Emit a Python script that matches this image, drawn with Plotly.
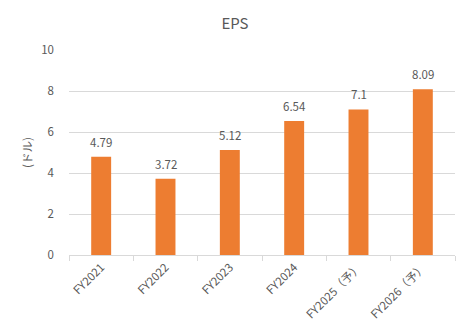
import plotly.graph_objects as go

categories = ["FY2021", "FY2022", "FY2023", "FY2024", "FY2025（予）", "FY2026（予）"]
eps = [4.79, 3.72, 5.12, 6.54, 7.1, 8.09]
eps_labels = ["4.79", "3.72", "5.12", "6.54", "7.1", "8.09"]

font_family = "Noto Sans CJK JP, Noto Sans, sans-serif"
grey = "#595959"

fig = go.Figure(
    go.Bar(
        x=categories,
        y=eps,
        marker=dict(color="#ED7D31", line=dict(width=0)),
        width=0.31,
    )
)

# value labels sitting a little above each bar
for cat, val, lab in zip(categories, eps, eps_labels):
    fig.add_annotation(
        x=cat, y=val, text=lab, showarrow=False,
        yanchor="bottom", yshift=5,
        font=dict(size=11.5, color=grey, family=font_family),
    )

fig.update_layout(
    width=470,
    height=335,
    margin=dict(l=69, r=15, t=50, b=80),
    paper_bgcolor="white",
    plot_bgcolor="white",
    showlegend=False,
    title=dict(
        text="EPS",
        x=0.5,
        xanchor="center",
        y=0.93,
        yanchor="middle",
        font=dict(size=15, color=grey, family=font_family),
    ),
    font=dict(family=font_family, color=grey),
)

fig.update_xaxes(
    tickangle=-45,
    tickfont=dict(size=11.5, color=grey),
    showline=True,
    linecolor="#d9d9d9",
    linewidth=1,
    ticks="outside",
    tickson="boundaries",
    ticklen=5,
    tickcolor="#d9d9d9",
    showgrid=False,
)

fig.update_yaxes(
    range=[0, 10],
    dtick=2,
    tickfont=dict(size=11.5, color=grey),
    showgrid=True,
    gridcolor="#d9d9d9",
    gridwidth=1,
    zeroline=False,
    ticks="",
    ticklabelstandoff=14,
    title=dict(text="(ドル)", font=dict(size=11.5, color=grey), standoff=6),
)

fig.write_html("out.html")
